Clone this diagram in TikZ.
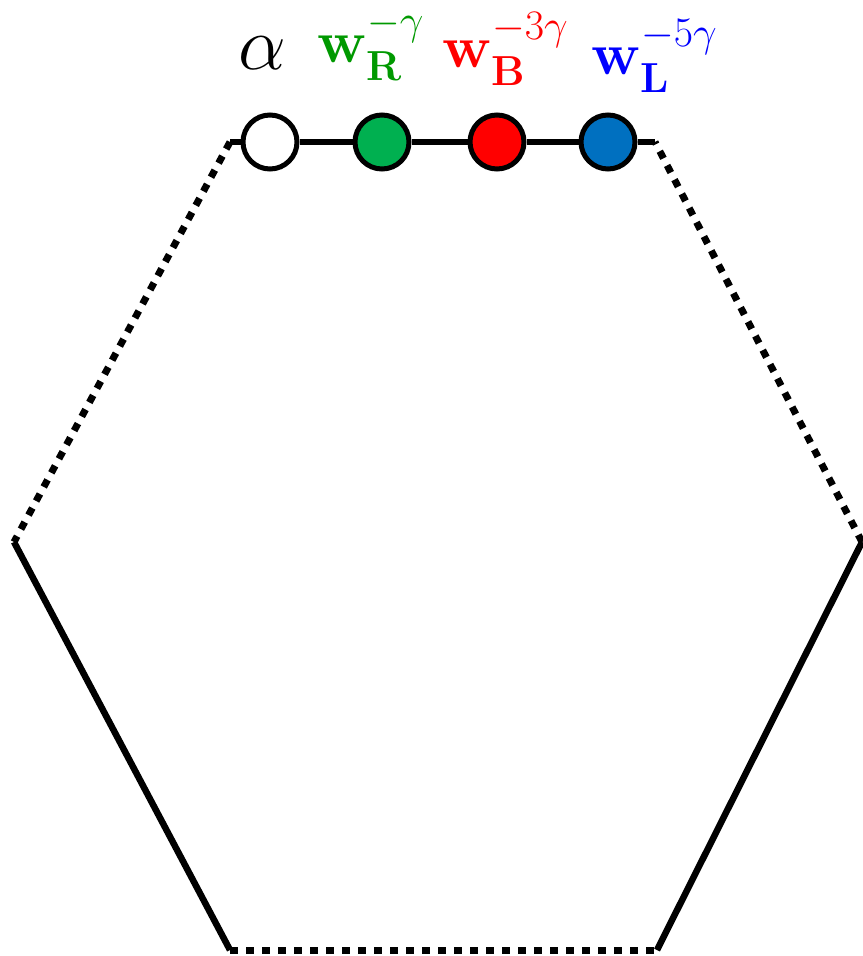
\documentclass[tikz,border=0pt]{standalone}
\usepackage{fix-cm}
\usepackage{amsmath, amssymb}
\usepackage{tikz}

\definecolor{verdetxt}{RGB}{0,153,0}
\definecolor{verdesitio}{RGB}{0,176,80}
\definecolor{azulsitio}{RGB}{0,112,192}

\tikzset{
    sitio/.style={circle, draw=black, line width=2.5pt, minimum size=27pt, inner sep=0pt},
    enlace/.style={line width=3.25pt},
    punteado/.style={line width=3.5pt, dash pattern=on 4pt off 4pt},
    etiqueta/.style={anchor=base west, inner sep=0pt, font=\fontsize{30}{36}\selectfont}
}

\begin{document}
\begin{tikzpicture}[x=0.5pt, y=-0.5pt]
        \useasboundingbox (0,0) rectangle (862,956);

        % Vértices del hexágono
        \coordinate (tl) at (230,142);
        \coordinate (tr) at (655,142);
        \coordinate (r) at (862,542);
        \coordinate (br) at (657,950);
        \coordinate (bl) at (230,950);
        \coordinate (l) at (14,542);

        % Bordes
        \draw[punteado] (tl) -- (l);
        \draw[enlace] (l) -- (bl);
        \draw[punteado] (bl) -- (br);
        \draw[enlace] (br) -- (r);
        \draw[punteado] (r) -- (tr);

        % Sitios en la cadena superior
        \node[sitio, fill=white] (s1) at (270,142) {};
        \node[sitio, fill=verdesitio] (s2) at (382,142) {};
        \node[sitio, fill=red] (s3) at (497,142) {};
        \node[sitio, fill=azulsitio] (s4) at (608,142) {};
        \draw[enlace] (tl) -- (s1) -- (s2) -- (s3) -- (s4) -- (tr);

        % Etiquetas
        \node[etiqueta, font=\fontsize{38}{44}\selectfont] (ea) at (238,70) {$\alpha$};
        \node[etiqueta, text=verdetxt] (er) at (317,63) {$\mathbf{w}_{\mathbf{R}}^{-\gamma}$};
        \node[etiqueta, text=red] (eb) at (442,68) {$\mathbf{w}_{\mathbf{B}}^{-3\gamma}$};
        \node[etiqueta, text=blue] (el) at (591,75) {$\mathbf{w}_{\mathbf{L}}^{-5\gamma}$};
    \end{tikzpicture}
\end{document}
